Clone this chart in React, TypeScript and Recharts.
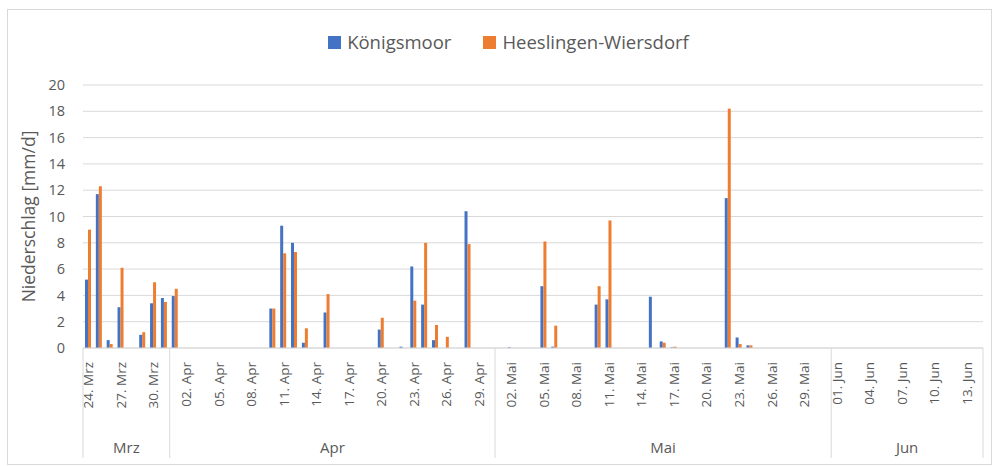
import { BarChart, Bar, XAxis, YAxis, CartesianGrid, Legend } from "recharts";

const monthNames = ["Mrz", "Apr", "Mai", "Jun"];
const monthFirstDay = [24, 1, 1, 1];
const monthLength = [8, 30, 31, 14];

// Niederschlag [mm/d], 24. Mrz – 14. Jun
const koenigsmoor = [
  // Mrz 24-31
  5.2, 11.7, 0.6, 3.1, 0, 1.0, 3.4, 3.8,
  // Apr 1-30
  3.95, 0, 0, 0, 0, 0, 0, 0, 0, 3.0, 9.3, 8.0, 0.4, 0, 2.7, 0, 0, 0, 0, 1.4,
  0, 0.1, 6.2, 3.3, 0.6, 0, 0, 10.4, 0, 0,
  // Mai 1-31
  0, 0.05, 0, 0, 4.7, 0.1, 0, 0, 0, 3.3, 3.7, 0, 0, 0, 3.9, 0.5, 0.05, 0, 0, 0,
  0, 11.4, 0.8, 0.2, 0, 0, 0, 0, 0, 0, 0,
  // Jun 1-14
  0, 0, 0, 0, 0, 0, 0, 0, 0, 0, 0, 0, 0, 0,
];

const heeslingen = [
  // Mrz 24-31
  9.0, 12.3, 0.3, 6.1, 0, 1.2, 5.0, 3.5,
  // Apr 1-30
  4.5, 0, 0, 0, 0, 0, 0, 0, 0, 3.0, 7.2, 7.3, 1.5, 0, 4.1, 0, 0, 0, 0, 2.3,
  0, 0, 3.6, 8.0, 1.75, 0.85, 0, 7.9, 0, 0,
  // Mai 1-31
  0, 0, 0, 0, 8.1, 1.7, 0, 0, 0, 4.7, 9.7, 0, 0, 0, 0, 0.4, 0.1, 0, 0, 0,
  0, 18.2, 0.3, 0.2, 0, 0, 0, 0, 0, 0, 0,
  // Jun 1-14
  0, 0, 0, 0, 0, 0, 0, 0, 0, 0, 0, 0, 0, 0,
];

const yTicks = [0, 2, 4, 6, 8, 10, 12, 14, 16, 18, 20];

const BLUE = "#4472C4";
const ORANGE = "#ED7D31";
const TEXT = "#595959";
const GRID = "#d9d9d9";
const FONT = "'Open Sans', sans-serif";

const W = 994;
const H = 466;
const MARGIN = { top: 0, right: 11, bottom: 8, left: 10 };
const Y_W = 73;
const X_H = 110;
const PLOT_BOTTOM = H - MARGIN.bottom - X_H;

// build category rows
const data: { date: string; day: number; month: number; k: number; h: number }[] = [];
monthNames.forEach((m, mi) => {
  for (let d = 0; d < monthLength[mi]; d++) {
    const day = monthFirstDay[mi] + d;
    const i = data.length;
    data.push({
      date: `${String(day).padStart(2, "0")}. ${m}`,
      day,
      month: mi,
      k: koenigsmoor[i],
      h: heeslingen[i],
    });
  }
});

const bandW = (W - MARGIN.left - MARGIN.right - Y_W) / data.length;

const monthStart: number[] = [];
monthLength.reduce((acc, n) => {
  monthStart.push(acc);
  return acc + n;
}, 0);

function DayTick(props: any) {
  const { x, index } = props;
  const row = data[index];
  if (!row) return null;
  const y0 = PLOT_BOTTOM;
  const items: any[] = [];
  if (index % 3 === 0) {
    items.push(
      <text
        key="d"
        x={x}
        y={y0 + 14}
        transform={`rotate(-90, ${x}, ${y0 + 14})`}
        textAnchor="end"
        dominantBaseline="central"
        fontSize={13.5}
        fill={TEXT}
        fontFamily={FONT}
      >
        {row.date}
      </text>
    );
  }
  const mi = row.month;
  if (index === monthStart[mi]) {
    items.push(
      <line key="s" x1={x - bandW / 2} x2={x - bandW / 2} y1={y0} y2={y0 + 110} stroke={GRID} />
    );
  }
  if (index === data.length - 1) {
    items.push(
      <line key="e" x1={x + bandW / 2} x2={x + bandW / 2} y1={y0} y2={y0 + 110} stroke={GRID} />
    );
  }
  const mid = (monthLength[mi] - 1) / 2;
  if (index === monthStart[mi] + Math.floor(mid)) {
    items.push(
      <text
        key="m"
        x={x + (mid - Math.floor(mid)) * bandW}
        y={y0 + 105}
        textAnchor="middle"
        fontSize={15}
        fill={TEXT}
        fontFamily={FONT}
      >
        {monthNames[mi]}
      </text>
    );
  }
  return <g>{items}</g>;
}

function LegendBox() {
  const entries = [
    { name: "Königsmoor", color: BLUE },
    { name: "Heeslingen-Wiersdorf", color: ORANGE },
  ];
  return (
    <div
      style={{
        display: "flex",
        justifyContent: "center",
        gap: 32,
        paddingTop: 30,
        paddingLeft: 24,
        fontFamily: FONT,
        fontSize: 18.5,
        color: TEXT,
        lineHeight: "24px",
      }}
    >
      {entries.map((e) => (
        <span key={e.name} style={{ display: "flex", alignItems: "center" }}>
          <span
            style={{
              display: "inline-block",
              width: 13,
              height: 13,
              background: e.color,
              marginRight: 6,
            }}
          />
          {e.name}
        </span>
      ))}
    </div>
  );
}

export default function App() {
  return (
    <div style={{ position: "absolute", left: 0, top: 0, width: W, height: H, background: "#fff" }}>
      <div
        style={{
          position: "absolute",
          left: 7,
          top: 9,
          width: 983,
          height: 454,
          border: `1px solid ${GRID}`,
        }}
      />
      <BarChart
        width={W}
        height={H}
        data={data}
        margin={MARGIN}
        barGap={0}
        barSize={3}
      >
        <Legend verticalAlign="top" height={85} content={<LegendBox />} />
        <CartesianGrid vertical={false} stroke={GRID} />
        <XAxis
          dataKey="date"
          interval={0}
          height={X_H}
          tickLine={false}
          axisLine={{ stroke: GRID }}
          tick={<DayTick />}
        />
        <YAxis
          domain={[0, 20]}
          ticks={yTicks}
          width={Y_W}
          axisLine={false}
          tickLine={false}
          tickSize={0}
          tickMargin={18}
          tick={{ fontSize: 14.5, fill: TEXT, fontFamily: FONT }}
          label={{
            value: "Niederschlag [mm/d]",
            angle: -90,
            position: "center",
            dx: -18,
            style: { fontSize: 17.5, fill: TEXT, fontFamily: FONT, textAnchor: "middle" },
          }}
        />
        <Bar dataKey="k" name="Königsmoor" fill={BLUE} isAnimationActive={false} />
        <Bar dataKey="h" name="Heeslingen-Wiersdorf" fill={ORANGE} isAnimationActive={false} />
      </BarChart>
    </div>
  );
}
